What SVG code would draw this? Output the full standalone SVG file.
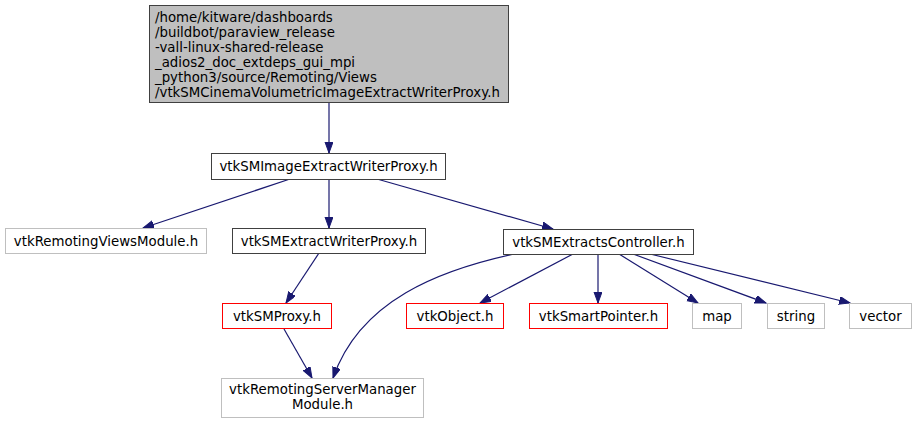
<svg xmlns="http://www.w3.org/2000/svg" width="918" height="424" viewBox="0 0 918 424">
<defs>
<style>
text{font-family:"DejaVu Sans",sans-serif;font-size:13.33px;fill:#000;text-anchor:middle}
.n rect{fill:#fff;stroke-width:1}
.b rect{stroke:#404040}
.g rect{stroke:#bfbfbf}
.r rect{stroke:#ff0000}
.e path{fill:none;stroke:#191970;stroke-width:1.2}
</style>
<marker id="a" markerWidth="12" markerHeight="9" refX="11" refY="4" orient="auto" markerUnits="userSpaceOnUse">
<path d="M0,0 L11,4 L0,8 z" fill="#191970" stroke="#191970"/>
</marker>
</defs>
<rect width="918" height="424" fill="#fff"/>
<g class="e">
<path d="M329,103 L329,153" marker-end="url(#a)"/>
<path d="M290,179 L143,228" marker-end="url(#a)"/>
<path d="M329,179 L329,228" marker-end="url(#a)"/>
<path d="M377,179 L553,229" marker-end="url(#a)"/>
<path d="M319,253 L286,303" marker-end="url(#a)"/>
<path d="M284,329 L312,378" marker-end="url(#a)"/>
<path d="M514,254 C440,270 360,300 333,378" marker-end="url(#a)"/>
<path d="M573,254 L480,303" marker-end="url(#a)"/>
<path d="M598,254 L598,303" marker-end="url(#a)"/>
<path d="M619,254 L698,303" marker-end="url(#a)"/>
<path d="M633,254 L766,303" marker-end="url(#a)"/>
<path d="M650,254 L850,303" marker-end="url(#a)"/>
</g>
<g id="main" class="n b">
<rect x="149.5" y="5.5" width="359" height="97" style="fill:#bfbfbf"/>
<text x="155" y="22" style="text-anchor:start">/home/kitware/dashboards</text>
<text x="155" y="37" style="text-anchor:start">/buildbot/paraview_release</text>
<text x="155" y="52" style="text-anchor:start">-vall-linux-shared-release</text>
<text x="155" y="67" style="text-anchor:start">_adios2_doc_extdeps_gui_mpi</text>
<text x="155" y="82" style="text-anchor:start">_python3/source/Remoting/Views</text>
<text x="155" y="97" style="text-anchor:start">/vtkSMCinemaVolumetricImageExtractWriterProxy.h</text>
</g>
<g id="imgwriter" class="n b"><rect x="211.5" y="153.5" width="234" height="26"/><text x="328.5" y="171">vtkSMImageExtractWriterProxy.h</text></g>
<g id="views" class="n g"><rect x="5.5" y="228.5" width="201" height="25"/><text x="106" y="245.5">vtkRemotingViewsModule.h</text></g>
<g id="extwriter" class="n b"><rect x="232.5" y="228.5" width="193" height="25"/><text x="329" y="245.5">vtkSMExtractWriterProxy.h</text></g>
<g id="ctrl" class="n b"><rect x="503.5" y="229.5" width="190" height="25"/><text x="598.5" y="246.5">vtkSMExtractsController.h</text></g>
<g id="proxy" class="n r"><rect x="222.5" y="303.5" width="109" height="25"/><text x="277" y="320.5">vtkSMProxy.h</text></g>
<g id="object" class="n r"><rect x="406.5" y="303.5" width="97" height="25"/><text x="455" y="320.5">vtkObject.h</text></g>
<g id="smart" class="n r"><rect x="529.5" y="303.5" width="138" height="25"/><text x="598.5" y="320.5">vtkSmartPointer.h</text></g>
<g id="map" class="n g"><rect x="692.5" y="303.5" width="49" height="25"/><text x="717" y="320.5">map</text></g>
<g id="string" class="n g"><rect x="767.5" y="303.5" width="57" height="25"/><text x="796" y="320.5">string</text></g>
<g id="vector" class="n g"><rect x="849.5" y="303.5" width="62" height="25"/><text x="880.5" y="320.5">vector</text></g>
<g id="rsmm" class="n g"><rect x="221.5" y="378.5" width="202" height="39"/><text x="322.5" y="394">vtkRemotingServerManager</text><text x="322.5" y="409">Module.h</text></g>
</svg>
